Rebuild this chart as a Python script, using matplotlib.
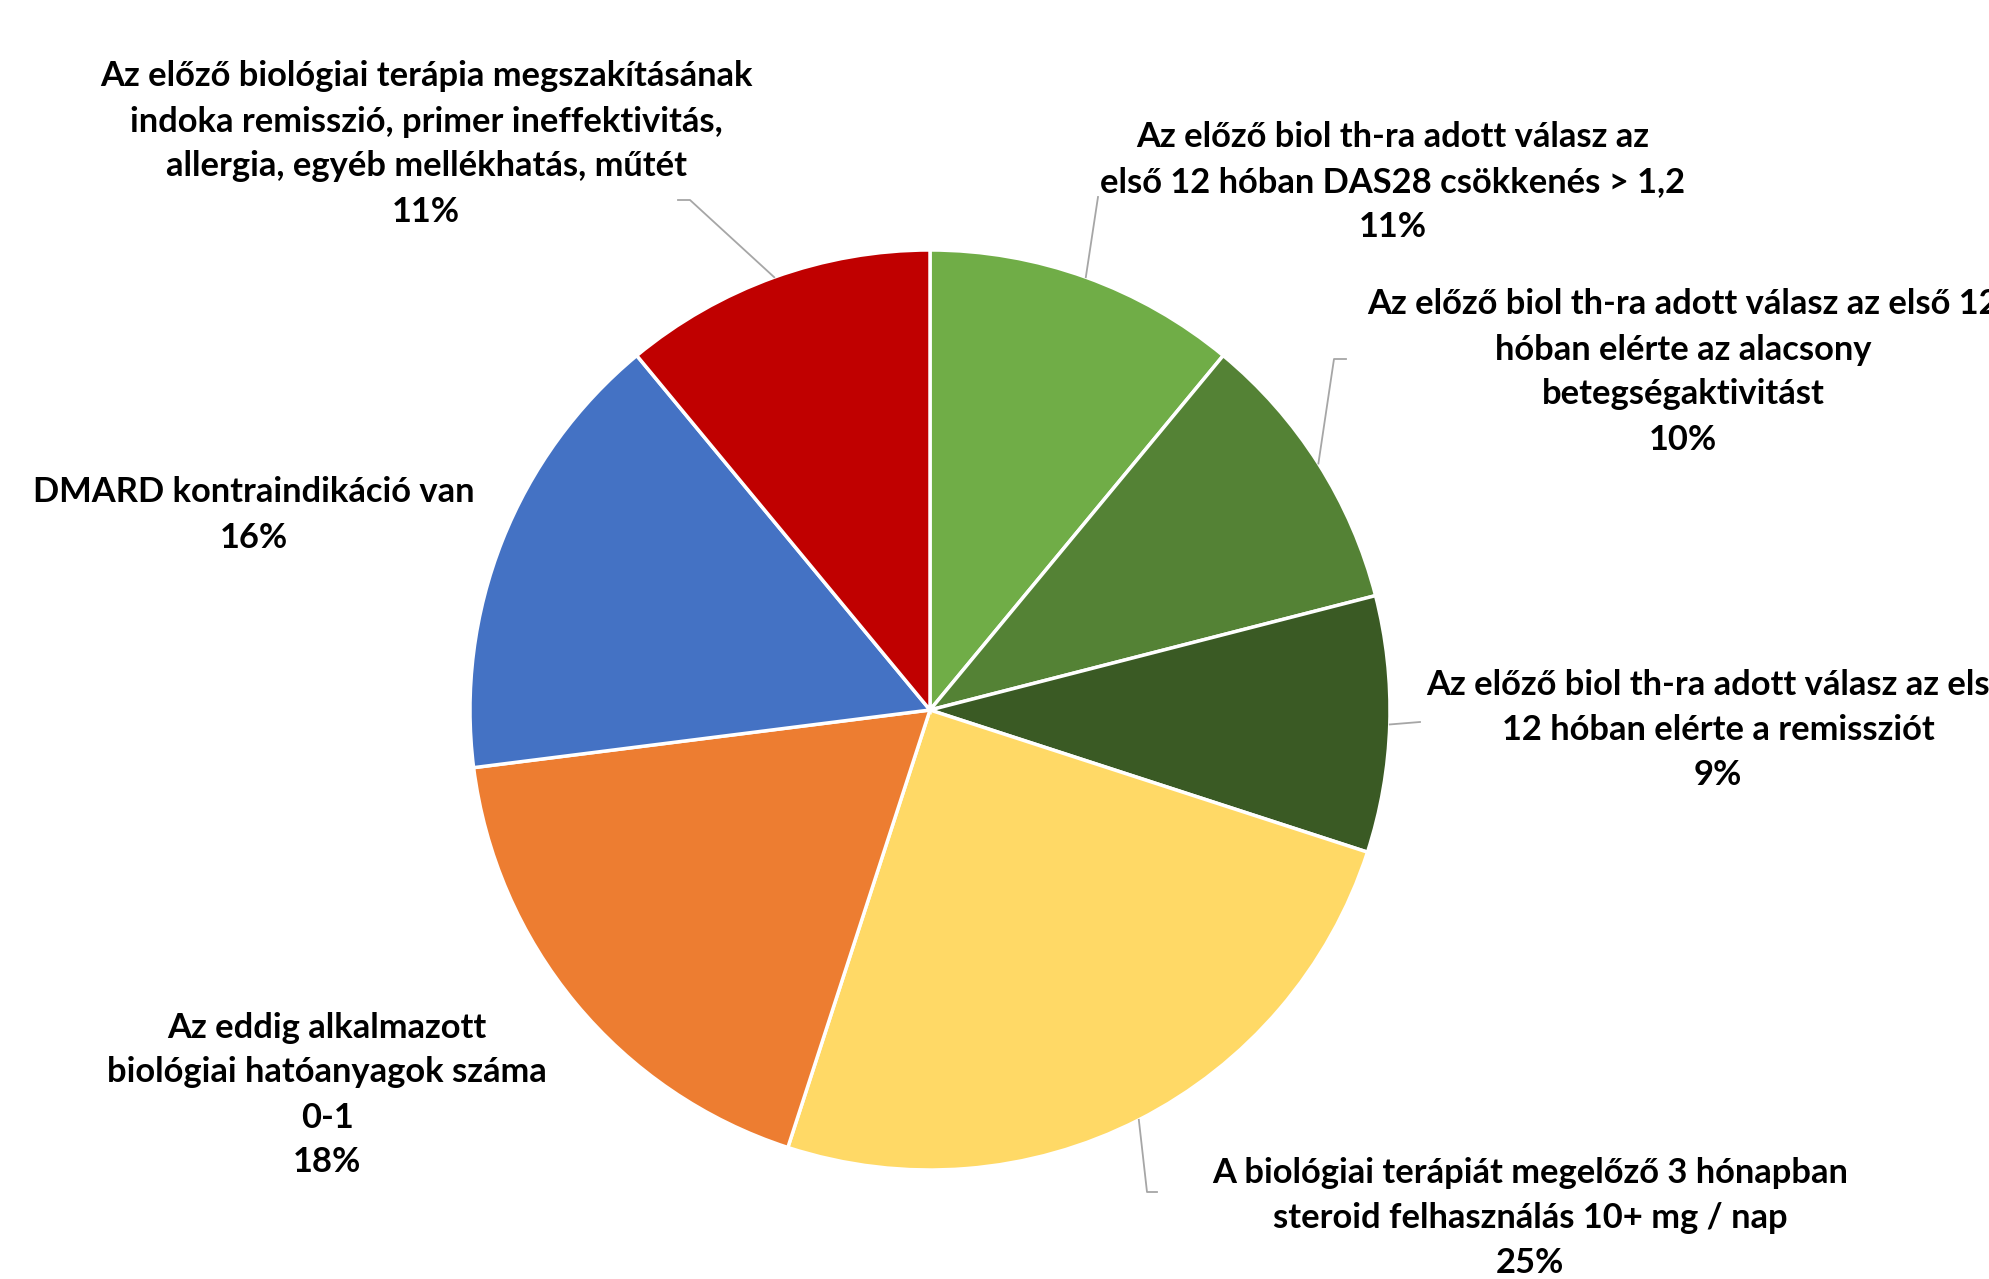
import numpy as np
import matplotlib
matplotlib.use("Agg")
import matplotlib.pyplot as plt

# slices, clockwise from 12 o'clock
labels = [
    "Az előző biol th-ra adott válasz az\nelső 12 hóban DAS28 csökkenés > 1,2",
    "Az előző biol th-ra adott válasz az első 12\nhóban elérte az alacsony\nbetegségaktivitást",
    "Az előző biol th-ra adott válasz az első\n12 hóban elérte a remissziót",
    "A biológiai terápiát megelőző 3 hónapban\nsteroid felhasználás 10+ mg / nap",
    "Az eddig alkalmazott\nbiológiai hatóanyagok száma\n0-1",
    "DMARD kontraindikáció van",
    "Az előző biológiai terápia megszakításának\nindoka remisszió, primer ineffektivitás,\nallergia, egyéb mellékhatás, műtét",
]
shares = [11, 10, 9, 25, 18, 16, 11]
colors = ["#70AD47", "#548235", "#3A5A24", "#FFD966", "#ED7D31", "#4472C4", "#C00000"]

W, H = 1989, 1279
cx, cy, R = 930, 710, 460

# label block centres (pixels from top-left) and leader end points
label_pos = [(1393, 182), (1683, 372), (1718, 730), (1530, 1218),
             (327, 1095), (254, 515), (426, 144)]
leader_end = [(1098, 197), (1334, 359), (1420, 722), (1147, 1192),
              None, None, (690, 200)]
leader_hook = [None, (1346, 359), None, (1157, 1192), None, None, (678, 200)]

plt.rcParams["font.family"] = ["Lato", "DejaVu Sans"]
fig = plt.figure(figsize=(W / 100, H / 100), dpi=100)
ax = fig.add_axes([(cx - R) / W, (H - cy - R) / H, 2 * R / W, 2 * R / H])
ax.axis("off")

wedges, _ = ax.pie(shares, colors=colors, startangle=90, counterclock=False,
                   radius=1, wedgeprops=dict(edgecolor="white", linewidth=2.5))
ax.set_xlim(-1, 1)
ax.set_ylim(-1, 1)


def px2data(x, y):
    return (x - cx) / R, (cy - y) / R


fs = 24.8
for w, lab, sh, pos, end, hook in zip(wedges, labels, shares, label_pos, leader_end, leader_hook):
    mid = np.deg2rad((w.theta1 + w.theta2) / 2)
    ex, ey = np.cos(mid), np.sin(mid)
    if end is not None:
        pts = [(ex, ey), px2data(*end)]
        if hook is not None:
            pts.append(px2data(*hook))
        xs, ys = zip(*pts)
        ax.plot(xs, ys, color="#A6A6A6", lw=1.3, clip_on=False)
    fig.text(pos[0] / W, 1 - pos[1] / H, f"{lab}\n{sh}%", ha="center", va="center",
             fontsize=fs, fontweight="bold", linespacing=1.5,
             color="black")

fig.savefig("out.png", dpi=100, facecolor="white")
